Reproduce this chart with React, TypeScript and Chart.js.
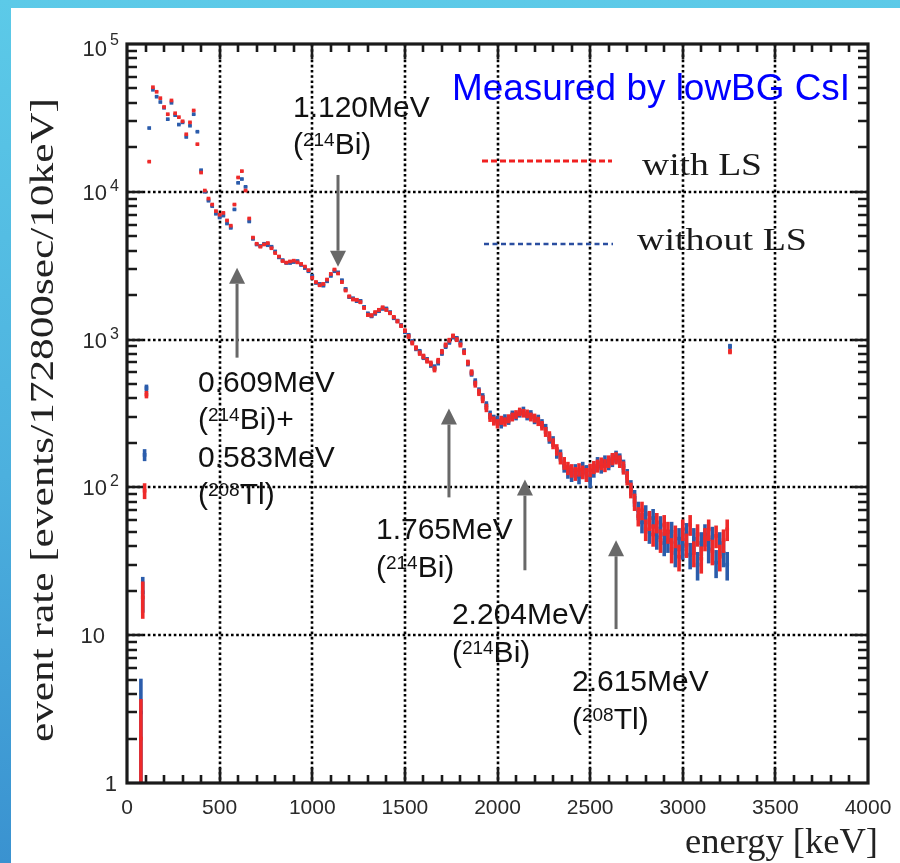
import React, { useEffect, useRef } from "react";
import { Chart, registerables } from "chart.js";

Chart.register(...registerables);

// ---------------- data ----------------
const energyKeV = [
  75, 85, 95, 105,
  120, 140, 160, 180, 200, 220, 240, 260, 280, 300,
  320, 340, 360, 380, 400, 420, 440, 460, 480, 500,
  520, 540, 560, 580, 600, 620, 640, 660, 680, 700,
  720, 740, 760, 780, 800, 820, 840, 860, 880, 900,
  920, 940, 960, 980, 1000, 1020, 1040, 1060, 1080, 1100,
  1120, 1140, 1160, 1180, 1200, 1220, 1240, 1260, 1280, 1300,
  1320, 1340, 1360, 1380, 1400, 1420, 1440, 1460, 1480, 1500,
  1520, 1540, 1560, 1580, 1600, 1620, 1640, 1660, 1680, 1700,
  1720, 1740, 1760, 1780, 1800, 1820, 1840, 1860, 1880, 1900,
  1920, 1940, 1960, 1980, 2000, 2020, 2040, 2060, 2080, 2100,
  2120, 2140, 2160, 2180, 2200, 2220, 2240, 2260, 2280, 2300,
  2320, 2340, 2360, 2380, 2400, 2420, 2440, 2460, 2480, 2500,
  2520, 2540, 2560, 2580, 2600, 2620, 2640, 2660, 2680, 2700,
  2720, 2740, 2760, 2780, 2800, 2820, 2840, 2860, 2880, 2900,
  2920, 2940, 2960, 2980, 3000, 3020, 3040, 3060, 3080, 3100,
  3120, 3140, 3160, 3180, 3200, 3220, 3240, 3255,
];

const withLS = [
  2.0, 18, 95, 425,
  16000, 51000, 47500, 43000, 37500, 33500, 41500, 34000, 32000, 30000,
  24500, 29500, 35500, 21000, 13500, 10200, 9000, 8200, 7400, 7000,
  7200, 6400, 5900, 8200, 12500, 13800, 10200, 6600, 4900, 4450,
  4250, 4400, 4500, 4150, 3850, 3650, 3400, 3320, 3380, 3420,
  3330, 3250, 3120, 2950, 2620, 2450, 2330, 2380, 2550, 2780,
  2980, 2800, 2450, 2150, 1960, 1870, 1860, 1790, 1640, 1470,
  1460, 1530, 1590, 1650, 1590, 1510, 1420, 1330, 1240, 1150,
  1050, 950, 880, 810, 770, 720, 690, 630, 720, 830,
  920, 990, 1060, 1000, 920, 820, 700, 600, 500, 440,
  395, 345, 298, 282, 270, 285, 278, 292, 300, 312,
  325, 318, 315, 300, 295, 280, 262, 238, 222, 198,
  180, 158, 146, 135, 130, 124, 132, 127, 122, 131,
  137, 140, 145, 141, 150, 156, 158, 150, 136, 116,
  96, 80, 64, 70, 52, 60, 48, 58, 44, 56,
  50, 38, 47, 34, 52, 41, 56, 36, 48, 33,
  45, 52, 37, 47, 34, 44, 52, 830,
];

const withoutLS = [
  3.0, 19.5, 166, 470,
  27000, 49000, 44000, 40500, 37000, 31000, 40000, 33000, 28500, 29500,
  23500, 28000, 33500, 25500, 14000, 10000, 8700, 8000, 7100, 6700,
  6900, 6100, 5700, 7600, 11500, 12200, 10800, 6300, 4800, 4400,
  4300, 4450, 4350, 4250, 3950, 3600, 3450, 3300, 3300, 3350,
  3400, 3200, 3050, 2900, 2700, 2420, 2380, 2320, 2480, 2700,
  2900, 2850, 2520, 2200, 1940, 1900, 1820, 1830, 1660, 1500,
  1440, 1500, 1560, 1620, 1620, 1530, 1400, 1340, 1250, 1130,
  1070, 970, 870, 830, 760, 730, 675, 650, 700, 810,
  900, 960, 1040, 1020, 950, 840, 690, 590, 520, 450,
  410, 360, 310, 290, 285, 270, 292, 285, 310, 305,
  318, 330, 305, 312, 288, 290, 270, 250, 215, 205,
  172, 165, 140, 128, 122, 130, 118, 135, 128, 112,
  130, 146, 138, 150, 145, 152, 162, 155, 140, 120,
  100, 85, 70, 58, 66, 50, 62, 46, 55, 42,
  44, 50, 36, 45, 40, 49, 35, 45, 30, 42,
  48, 38, 46, 31, 42, 36, 30, 900,
];

const seriesNames = ["with LS", "without LS"];
const seriesColors = ["#ee2a2a", "#2b5cab"];
const xTickLabels = [0, 500, 1000, 1500, 2000, 2500, 3000, 3500, 4000];
const yDecades = [1, 10, 100, 1000, 10000, 100000];
const xTitle = "energy [keV]";
const yTitle = "event rate [events/172800sec/10keV]";
const boxText = "Measured by lowBG CsI";

// Peak annotations: text anchored at (energy, rate); arrow from rate -> tip rate
const peakNotes = [
  { lines: ["1.120MeV", "({214}Bi)"], textE: 896, textRate: 32100, arrowE: 1139, arrowFrom: 13000, arrowTo: 3110 },
  { lines: ["0.609MeV", "({214}Bi)+", "0.583MeV", "({208}Tl)"], textE: 383, textRate: 445, arrowE: 594, arrowFrom: 755, arrowTo: 3060 },
  { lines: ["1.765MeV", "({214}Bi)"], textE: 1344, textRate: 44.5, arrowE: 1738, arrowFrom: 85.6, arrowTo: 342 },
  { lines: ["2.204MeV", "({214}Bi)"], textE: 1754, textRate: 11.9, arrowE: 2148, arrowFrom: 27.5, arrowTo: 113 },
  { lines: ["2.615MeV", "({208}Tl)"], textE: 2402, textRate: 4.19, arrowE: 2640, arrowFrom: 11, arrowTo: 43.9 },
];

const ERR_SCALE = 1.2;

// ---------------- helpers ----------------
function fitText(ctx: CanvasRenderingContext2D, text: string, x: number, y: number, width: number, rotate = false) {
  const w = ctx.measureText(text).width;
  const s = width / w;
  ctx.save();
  ctx.translate(x, y);
  if (rotate) ctx.rotate(-Math.PI / 2);
  ctx.scale(s, 1);
  ctx.textAlign = "left";
  ctx.fillText(text, 0, 0);
  ctx.restore();
}

function drawRichLine(ctx: CanvasRenderingContext2D, text: string, x: number, y: number, mainFont: string, supFont: string, raise: number) {
  const parts = text.split(/(\{[^}]*\})/).filter((p) => p.length > 0);
  let cx = x;
  for (const p of parts) {
    const sup = p.startsWith("{");
    const t = sup ? p.slice(1, -1) : p;
    ctx.font = sup ? supFont : mainFont;
    ctx.fillText(t, cx, sup ? y - raise : y);
    cx += ctx.measureText(t).width;
  }
}

function drawArrow(ctx: CanvasRenderingContext2D, x: number, y0: number, y1: number) {
  const dir = Math.sign(y1 - y0);
  const headLen = 16;
  const headHalf = 8;
  ctx.save();
  ctx.strokeStyle = "#686868";
  ctx.fillStyle = "#686868";
  ctx.lineWidth = 3;
  ctx.beginPath();
  ctx.moveTo(x, y0);
  ctx.lineTo(x, y1 - dir * headLen);
  ctx.stroke();
  ctx.beginPath();
  ctx.moveTo(x, y1);
  ctx.lineTo(x - headHalf, y1 - dir * headLen);
  ctx.lineTo(x + headHalf, y1 - dir * headLen);
  ctx.closePath();
  ctx.fill();
  ctx.restore();
}

const errorBarPlugin = {
  id: "errorBars",
  beforeDatasetDraw(chart: any, args: any) {
    const ctx: CanvasRenderingContext2D = chart.ctx;
    const ds = chart.data.datasets[args.index];
    const yScale = chart.scales.y;
    const area = chart.chartArea;
    ctx.save();
    ctx.beginPath();
    ctx.rect(area.left, area.top, area.right - area.left, area.bottom - area.top);
    ctx.clip();
    ctx.strokeStyle = ds.borderColor;
    ctx.lineWidth = 3.6;
    ctx.lineCap = "butt";
    args.meta.data.forEach((pt: any, i: number) => {
      const v = ds.data[i].y;
      const e = ERR_SCALE * Math.sqrt(v);
      const lo = Math.max(v - e, 0.3);
      const hi = v + e;
      ctx.beginPath();
      ctx.moveTo(pt.x, yScale.getPixelForValue(lo));
      ctx.lineTo(pt.x, yScale.getPixelForValue(hi));
      ctx.stroke();
    });
    ctx.restore();
  },
};

const framePlugin = {
  id: "rootFrame",
  beforeDatasetsDraw(chart: any) {
    const ctx: CanvasRenderingContext2D = chart.ctx;
    const { left, right, top, bottom } = chart.chartArea;
    const xs = chart.scales.x;
    const ys = chart.scales.y;
    ctx.save();
    ctx.strokeStyle = "#000";
    ctx.lineWidth = 2.6;
    ctx.setLineDash([2.6, 2.6]);
    xTickLabels.slice(1, -1).forEach((v) => {
      const x = Math.round(xs.getPixelForValue(v));
      ctx.beginPath();
      ctx.moveTo(x, top);
      ctx.lineTo(x, bottom);
      ctx.stroke();
    });
    yDecades.slice(1, -1).forEach((v) => {
      const y = Math.round(ys.getPixelForValue(v));
      ctx.beginPath();
      ctx.moveTo(left, y);
      ctx.lineTo(right, y);
      ctx.stroke();
    });
    ctx.restore();
  },
  afterDraw(chart: any) {
    const ctx: CanvasRenderingContext2D = chart.ctx;
    const { left, right, top, bottom } = chart.chartArea;
    const xs = chart.scales.x;
    const ys = chart.scales.y;
    ctx.save();
    // frame
    ctx.strokeStyle = "#1a1a1a";
    ctx.lineWidth = 3.2;
    ctx.strokeRect(left, top, right - left, bottom - top);
    // x ticks
    ctx.lineWidth = 2.6;
    for (let v = 100; v < 4000; v += 100) {
      const x = Math.round(xs.getPixelForValue(v));
      const len = v % 500 === 0 ? 15 : 8;
      ctx.beginPath();
      ctx.moveTo(x, bottom);
      ctx.lineTo(x, bottom - len);
      ctx.moveTo(x, top);
      ctx.lineTo(x, top + len);
      ctx.stroke();
    }
    // y ticks
    yDecades.slice(0, -1).forEach((d) => {
      for (let m = 1; m <= 9; m++) {
        const v = d * m;
        if (v <= 1) continue;
        const y = Math.round(ys.getPixelForValue(v));
        const len = m === 1 ? 16 : 10;
        ctx.beginPath();
        ctx.moveTo(left, y);
        ctx.lineTo(left + len, y);
        ctx.moveTo(right, y);
        ctx.lineTo(right - len, y);
        ctx.stroke();
      }
    });
    // x tick labels
    ctx.fillStyle = "#2a2a2a";
    ctx.font = "21px 'Liberation Sans', Arial, sans-serif";
    ctx.textAlign = "center";
    ctx.textBaseline = "alphabetic";
    xTickLabels.forEach((v) => {
      ctx.fillText(String(v), xs.getPixelForValue(v), bottom + 31);
    });
    // y tick labels
    yDecades.forEach((v) => {
      const y = ys.getPixelForValue(v);
      const exp = Math.round(Math.log10(v));
      ctx.font = "22px 'Liberation Sans', Arial, sans-serif";
      ctx.textAlign = "right";
      if (exp === 0) {
        ctx.fillText("1", left - 10, y + 8);
      } else if (exp === 1) {
        ctx.fillText("10", left - 22, y + 8);
      } else {
        ctx.fillText("10", left - 20, y + 8 + (exp === 5 ? 4 : 0));
        ctx.font = "16px 'Liberation Sans', Arial, sans-serif";
        ctx.textAlign = "left";
        ctx.fillText(String(exp), left - 17, y - 1 + (exp === 5 ? 2 : 0));
      }
    });
    // axis titles
    ctx.fillStyle = "#222";
    ctx.font = "35px 'Liberation Serif', 'Times New Roman', serif";
    fitText(ctx, xTitle, 685, 853, 193);
    ctx.font = "33px 'Liberation Serif', 'Times New Roman', serif";
    fitText(ctx, yTitle, 53, 742, 644, true);

    // legend
    const legendRows = [
      { lineY: 161, x0: 482, x1: 612, textX: 642, textY: 175, textW: 120, dash: [6, 3], width: 3 },
      { lineY: 244, x0: 484, x1: 613, textX: 637, textY: 250, textW: 170, dash: [5, 3.5], width: 2.5 },
    ];
    legendRows.forEach((r, i) => {
      ctx.save();
      ctx.strokeStyle = i === 0 ? "#f02020" : "#2a4ea0";
      ctx.lineWidth = r.width;
      ctx.setLineDash(r.dash);
      ctx.beginPath();
      ctx.moveTo(r.x0, r.lineY);
      ctx.lineTo(r.x1, r.lineY);
      ctx.stroke();
      ctx.restore();
      ctx.fillStyle = "#1a1a1a";
      ctx.font = "31px 'Liberation Serif', 'Times New Roman', serif";
      fitText(ctx, seriesNames[i], r.textX, r.textY, r.textW);
    });

    // "Measured by" box text
    ctx.fillStyle = "#0000ff";
    ctx.font = "36px 'Liberation Sans', Arial, sans-serif";
    fitText(ctx, boxText, 452, 100, 398);

    // peak annotations
    peakNotes.forEach((n) => {
      const ax = xs.getPixelForValue(n.arrowE);
      drawArrow(ctx, ax, ys.getPixelForValue(n.arrowFrom), ys.getPixelForValue(n.arrowTo));
      const tx = xs.getPixelForValue(n.textE);
      const ty = ys.getPixelForValue(n.textRate);
      ctx.fillStyle = "#111";
      ctx.textAlign = "left";
      n.lines.forEach((line, k) => {
        drawRichLine(
          ctx,
          line,
          tx,
          ty + k * 37.5,
          "30px 'Liberation Sans', Arial, sans-serif",
          "19px 'Liberation Sans', Arial, sans-serif",
          8
        );
      });
    });
    ctx.restore();
  },
};

export default function App() {
  const ref = useRef<HTMLCanvasElement | null>(null);
  useEffect(() => {
    if (!ref.current) return;
    const makeData = (vals: number[]) => energyKeV.map((e, i) => ({ x: e, y: vals[i] }));
    const chart = new Chart(ref.current, {
      type: "scatter",
      data: {
        datasets: [
          {
            label: seriesNames[0],
            data: makeData(withLS),
            backgroundColor: seriesColors[0],
            borderColor: seriesColors[0],
            pointStyle: "rect",
            pointRadius: 2.6,
            pointBorderWidth: 0,
            showLine: false,
          },
          {
            label: seriesNames[1],
            data: makeData(withoutLS),
            backgroundColor: seriesColors[1],
            borderColor: seriesColors[1],
            pointStyle: "rect",
            pointRadius: 2.6,
            pointBorderWidth: 0,
            showLine: false,
          },
        ],
      },
      options: {
        responsive: false,
        animation: false,
        devicePixelRatio: 1,
        events: [],
        layout: { padding: { left: 127, top: 44, right: 32, bottom: 80 } },
        plugins: { legend: { display: false }, tooltip: { enabled: false } },
        scales: {
          x: { type: "linear", min: 0, max: 4000, display: false },
          y: { type: "logarithmic", min: 1, max: 100000, display: false },
        },
      },
      plugins: [errorBarPlugin, framePlugin],
    } as any);
    return () => chart.destroy();
  }, []);

  return (
    <div
      style={{
        position: "fixed",
        left: 0,
        top: 0,
        width: 900,
        height: 863,
        overflow: "hidden",
        background: "linear-gradient(180deg, #5ccae8 0%, #4cb0de 55%, #3a92d0 100%)",
      }}
    >
      <div style={{ position: "absolute", left: 11, top: 8, right: 0, bottom: 0, background: "#ffffff" }} />
      <canvas
        ref={ref}
        width={900}
        height={863}
        style={{ position: "absolute", left: 0, top: 0, width: 900, height: 863, display: "block" }}
      />
    </div>
  );
}
